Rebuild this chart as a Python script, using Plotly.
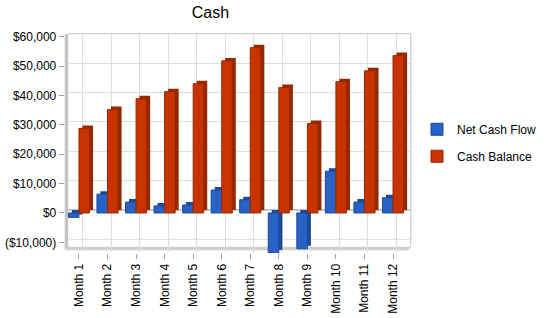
import plotly.graph_objects as go

months = ["Month 1", "Month 2", "Month 3", "Month 4", "Month 5", "Month 6",
          "Month 7", "Month 8", "Month 9", "Month 10", "Month 11", "Month 12"]
net_cash_flow = [-1500, 6400, 3700, 2400, 2700, 7800, 4500, -13600, -12200, 14200, 3700, 5200]
cash_balance = [28800, 35200, 38900, 41300, 44000, 51800, 56300, 42700, 30500, 44700, 48400, 53600]
y_tick_vals = [-10000, 0, 10000, 20000, 30000, 40000, 50000, 60000]
y_tick_text = ["($10,000)", "$0", "$10,000", "$20,000", "$30,000", "$40,000", "$50,000", "$60,000"]

W, H = 550, 318
FONT = "Liberation Sans, Arial, sans-serif"

BLUE, BLUE_DK = "#2862c4", "#1b4a9c"
RED, RED_DK = "#c83400", "#962800"

# pixel geometry helpers
k = 0.002955            # px per dollar
front_zero = 212.3
front_top_px, front_bot_px = 30.0, 252.5
back_top_px, back_bot_px = 32.0, 246.2
back_clip_px = 252.0
dx = 3.5
fx0, fx1 = 64.7, 407.3

def px_x(p):
    return p / W

def px_y(p):
    return 1 - p / H

back_zero = front_zero - 3.0
back_range = [-(back_clip_px - back_zero) / k, (back_zero - back_top_px) / k]
front_range = [-(front_bot_px - front_zero) / k, (front_zero - front_top_px) / k]

fig = go.Figure()

# depth (side/top) faces drawn on the back axes
fig.add_trace(go.Bar(x=months, y=net_cash_flow, marker=dict(color=BLUE_DK, line=dict(width=0)),
                     xaxis="x", yaxis="y", showlegend=False, hoverinfo="skip"))
fig.add_trace(go.Bar(x=months, y=cash_balance, marker=dict(color=RED_DK, line=dict(width=0)),
                     xaxis="x", yaxis="y", showlegend=False, hoverinfo="skip"))
# front faces
fig.add_trace(go.Bar(x=months, y=net_cash_flow, name="Net Cash Flow",
                     marker=dict(color=BLUE, line=dict(color=BLUE_DK, width=1)),
                     xaxis="x2", yaxis="y2", legendgroup="a"))
fig.add_trace(go.Bar(x=months, y=cash_balance, name="Cash Balance",
                     marker=dict(color=RED, line=dict(color=RED_DK, width=1)),
                     xaxis="x2", yaxis="y2", legendgroup="b"))

wall = "#c4c4c4"
bx0, bx1 = fx0 + dx, fx1 + dx
shapes = [
    # left wall
    dict(type="path", xref="paper", yref="paper", layer="below",
         path=f"M {px_x(fx0)},{px_y(front_top_px + 2.7)} L {px_x(bx0)},{px_y(back_top_px)} "
              f"L {px_x(bx0)},{px_y(back_bot_px)} L {px_x(fx0)},{px_y(back_bot_px + 3.5)} Z",
         fillcolor=wall, line=dict(width=0)),
    # floor
    dict(type="path", xref="paper", yref="paper", layer="below",
         path=f"M {px_x(fx0)},{px_y(back_bot_px + 3.5)} L {px_x(bx0)},{px_y(back_bot_px)} "
              f"L {px_x(bx1)},{px_y(back_bot_px)} L {px_x(fx1)},{px_y(back_bot_px + 3.5)} Z",
         fillcolor="#d0d0d0", line=dict(width=0)),
    # back wall border (top + right + floor corner)
    dict(type="path", xref="paper", yref="paper", layer="below",
         path=f"M {px_x(bx0)},{px_y(back_top_px)} L {px_x(bx1)},{px_y(back_top_px)} "
              f"L {px_x(bx1)},{px_y(back_bot_px)} L {px_x(fx1)},{px_y(back_bot_px + 3.5)}",
         line=dict(color="#c4c4c4", width=1)),
]

fig.update_layout(
    width=W, height=H,
    margin=dict(l=0, r=0, t=0, b=0),
    paper_bgcolor="white", plot_bgcolor="rgba(0,0,0,0)",
    font=dict(family=FONT, size=12, color="black"),
    barmode="group", bargap=0.26, bargroupgap=0,
    title=dict(text="Cash", x=210.5 / W, xanchor="center", y=px_y(12), yanchor="middle",
               font=dict(family=FONT, size=16, color="black")),
    xaxis=dict(domain=[px_x(bx0), px_x(bx1)], anchor="y", range=[-0.5, 11.5],
               showgrid=True, gridcolor="#dddddd", gridwidth=1, showticklabels=False, ticks="",
               showline=False, zeroline=False, fixedrange=True),
    yaxis=dict(domain=[px_y(back_clip_px), px_y(back_top_px)], anchor="x", range=back_range,
               tickvals=y_tick_vals[1:], showgrid=True, gridcolor="#dddddd", gridwidth=1,
               showticklabels=False, ticks="", zeroline=True, zerolinecolor="#c8c8c8", zerolinewidth=2,
               showline=False),
    xaxis2=dict(domain=[px_x(fx0), px_x(fx1)], anchor="y2", range=[-0.5, 11.5],
                showgrid=False, zeroline=False, showline=False, ticks="outside", ticklen=5,
                tickcolor="#a0a0a0", tickangle=-90, tickfont=dict(size=12)),
    yaxis2=dict(domain=[px_y(front_bot_px), px_y(front_top_px)], anchor="x2", range=front_range,
                tickvals=y_tick_vals, ticktext=y_tick_text, showgrid=False, zeroline=False,
                showline=False, ticks="outside", ticklen=5, tickcolor="#a0a0a0",
                tickfont=dict(size=12)),
    legend=dict(x=px_x(417), xanchor="left", y=px_y(113.5), yanchor="top",
                tracegroupgap=8, font=dict(size=12), bgcolor="rgba(0,0,0,0)"),
    shapes=shapes,
    showlegend=True,
)

# -10,000 gridline on the back wall
fig.add_shape(type="line", xref="x", yref="y", x0=-0.5, x1=11.5, y0=-10000, y1=-10000,
              line=dict(color="#dddddd", width=1), layer="below")

fig.write_html("out.html")
